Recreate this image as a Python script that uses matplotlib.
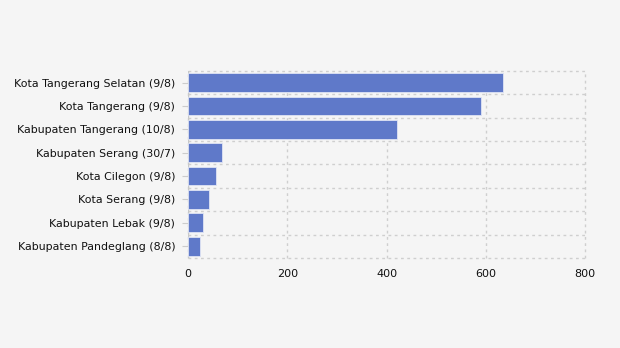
import matplotlib
matplotlib.use("Agg")
import matplotlib.pyplot as plt
import numpy as np

regions = [
    "Kota Tangerang Selatan (9/8)",
    "Kota Tangerang (9/8)",
    "Kabupaten Tangerang (10/8)",
    "Kabupaten Serang (30/7)",
    "Kota Cilegon (9/8)",
    "Kota Serang (9/8)",
    "Kabupaten Lebak (9/8)",
    "Kabupaten Pandeglang (8/8)",
]
cases = [634, 591, 422, 68, 56, 42, 30, 24]
x_ticks = [0, 200, 400, 600, 800]

bg = "#f5f5f5"
fig = plt.figure(figsize=(6.2, 3.48), dpi=100, facecolor=bg)
ax = fig.add_axes([0.303, 0.259, 0.641, 0.537], facecolor=bg)

y = np.arange(len(regions))
ax.barh(y, cases, height=0.8, color="#5f79c9", edgecolor="#dfe4f4",
        linewidth=0.6, zorder=2)

ax.set_ylim(len(regions) - 0.5, -0.5)
ax.set_xlim(0, 800)
ax.set_xticks(x_ticks)
ax.set_yticks(y)
ax.set_yticklabels(regions)
# row separators sit on minor ticks between categories
ax.set_yticks(np.arange(-0.5, len(regions), 1.0), minor=True)

ax.tick_params(axis="y", which="major", length=4, color="#cccccc",
               labelsize=7.9, pad=5, labelcolor="#111111")
ax.tick_params(axis="y", which="minor", length=0)
ax.tick_params(axis="x", length=0, labelsize=8, pad=8, labelcolor="#111111")

grid_kw = dict(color="#cfcfcf", linestyle=(0, (2, 2.5)), linewidth=1.0, zorder=0)
ax.grid(axis="x", which="major", **grid_kw)
ax.grid(axis="y", which="minor", **grid_kw)
ax.set_axisbelow(True)
# keep the outermost dotted lines fully visible at the axes edges
for t in ax.xaxis.get_major_ticks() + ax.yaxis.get_minor_ticks():
    t.gridline.set_clip_on(False)

for s in ax.spines.values():
    s.set_visible(False)
ax.axvline(0, color="#c8c8c8", linewidth=1.0, zorder=1)

fig.savefig("out.png", dpi=100, facecolor=bg)
